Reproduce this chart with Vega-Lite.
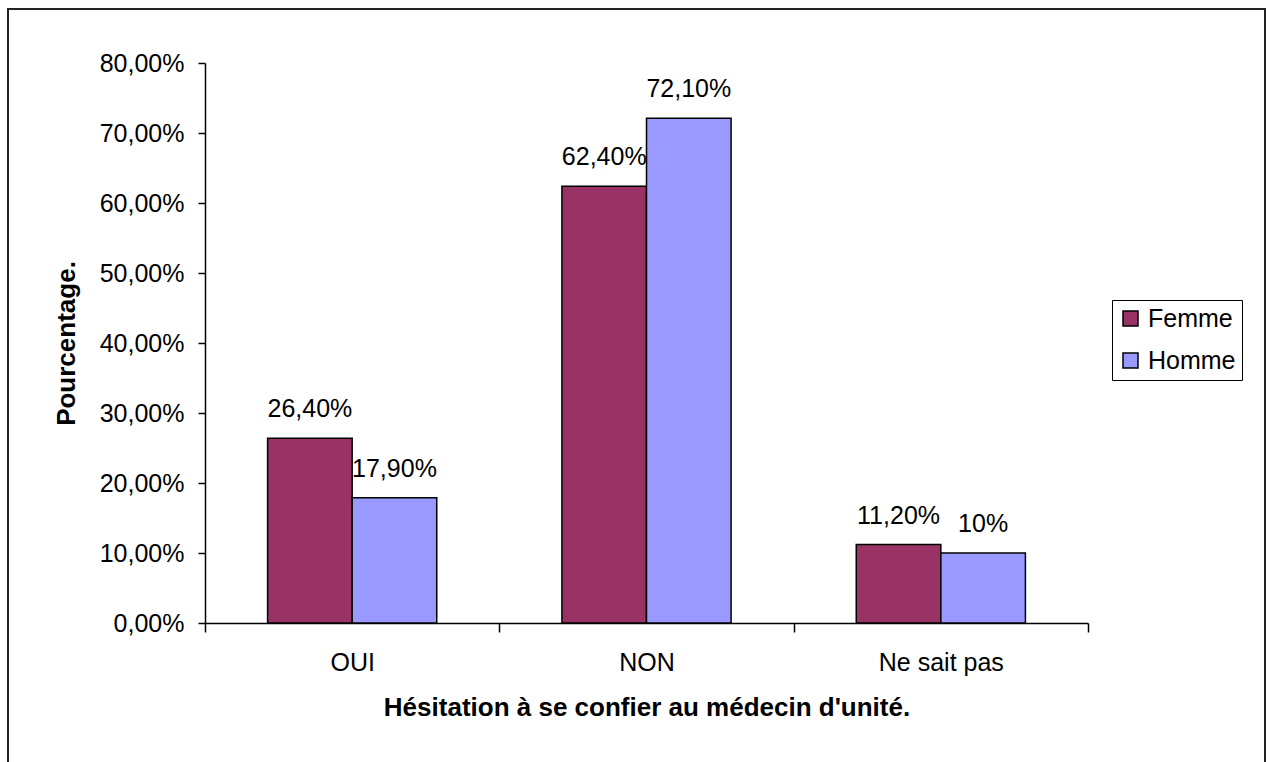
{
  "$schema": "https://vega.github.io/schema/vega-lite/v6.json",
  "width": 1257,
  "height": 760,
  "autosize": {"type": "none"},
  "padding": {"left": 8, "top": 9, "right": 1, "bottom": 0},
  "background": "white",
  "config": {
    "font": "Liberation Sans",
    "view": {"stroke": "#222222", "strokeWidth": 2},
    "axis": {"grid": false, "domainColor": "black", "tickColor": "black", "labelColor": "black", "titleColor": "black", "domainWidth": 1.5, "tickWidth": 1.5, "labelFont": "Liberation Sans", "titleFont": "Liberation Sans"}
  },
  "data": {
    "values": [
      {"reponse": "OUI", "sexe": "Femme", "valeur": 0.264, "etiquette": "26,40%"},
      {"reponse": "OUI", "sexe": "Homme", "valeur": 0.179, "etiquette": "17,90%"},
      {"reponse": "NON", "sexe": "Femme", "valeur": 0.624, "etiquette": "62,40%"},
      {"reponse": "NON", "sexe": "Homme", "valeur": 0.721, "etiquette": "72,10%"},
      {"reponse": "Ne sait pas", "sexe": "Femme", "valeur": 0.112, "etiquette": "11,20%"},
      {"reponse": "Ne sait pas", "sexe": "Homme", "valeur": 0.10, "etiquette": "10%"}
    ]
  },
  "encoding": {
    "x": {
      "field": "reponse", "type": "nominal", "sort": ["OUI", "NON", "Ne sait pas"],
      "scale": {"range": [197, 1080], "paddingInner": 0, "paddingOuter": 0},
      "axis": {
        "title": "Hésitation à se confier au médecin d'unité.",
        "titleFontSize": 26, "titleFontWeight": "bold", "titlePadding": 19,
        "labelAngle": 0, "labelFontSize": 25, "labelPadding": 18,
        "tickBand": "extent", "tickSize": 9, "offset": -146
      }
    },
    "xOffset": {
      "field": "sexe", "type": "nominal", "sort": ["Femme", "Homme"],
      "scale": {"paddingInner": 0, "paddingOuter": 0.74}
    },
    "y": {
      "field": "valeur", "type": "quantitative",
      "scale": {"domain": [0, 0.8], "range": [614, 54], "nice": false},
      "axis": {
        "title": "Pourcentage.",
        "titleFontSize": 26, "titleFontWeight": "bold", "titlePadding": 20,
        "values": [0, 0.1, 0.2, 0.3, 0.4, 0.5, 0.6, 0.7, 0.8],
        "labelExpr": "replace(format(datum.value, '.2%'), '.', ',')",
        "labelFontSize": 25, "labelPadding": 14, "tickSize": 7, "offset": -197
      }
    }
  },
  "layer": [
    {
      "mark": {"type": "bar", "stroke": "black", "strokeWidth": 1.5},
      "encoding": {
        "color": {
          "field": "sexe", "type": "nominal",
          "scale": {"domain": ["Femme", "Homme"], "range": ["#993366", "#9999FF"]},
          "legend": {
            "orient": "none", "legendX": 1104, "legendY": 291, "title": null,
            "symbolType": "square", "symbolSize": 225, "symbolStrokeColor": "black", "symbolStrokeWidth": 1.5,
            "labelFontSize": 25, "labelColor": "black", "labelOffset": 5,
            "strokeColor": "black", "fillColor": "white", "padding": 6, "rowPadding": 16
          }
        }
      }
    },
    {
      "mark": {"type": "text", "dy": -21, "baseline": "alphabetic", "fontSize": 25, "color": "black"},
      "encoding": {"text": {"field": "etiquette"}}
    }
  ]
}
